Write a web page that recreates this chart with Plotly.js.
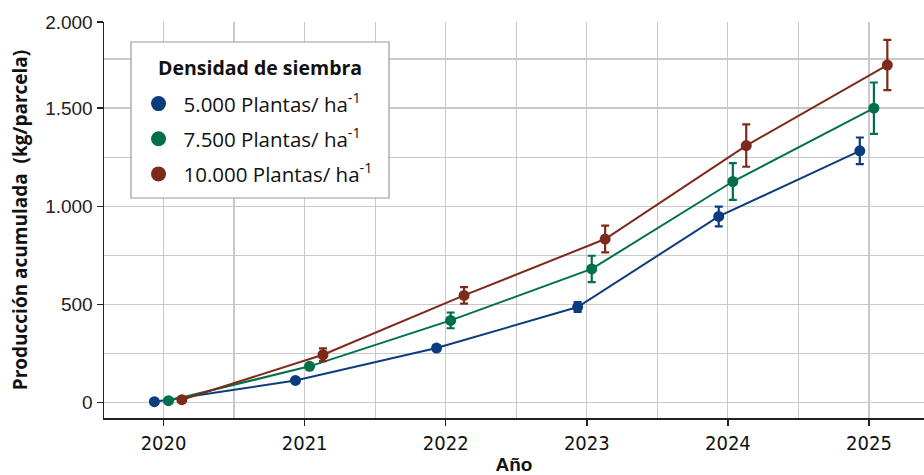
<!DOCTYPE html>
<html>
<head>
<meta charset="utf-8">
<script src="https://cdn.plot.ly/plotly-3.0.1.min.js"></script>
<style>html,body{margin:0;padding:0;background:#fff;}#chart{width:924px;height:475px;}</style>
</head>
<body>
<div id="chart"></div>
<script>
const years = [2020, 2021, 2022, 2023, 2024, 2025];
const seriesNames = ['5.000 Plantas/ ha<sup>-1</sup>', '7.500 Plantas/ ha<sup>-1</sup>', '10.000 Plantas/ ha<sup>-1</sup>'];
const legendTitle = 'Densidad de siembra';
const prod5000 = [5, 113, 278, 487, 948, 1282];
const err5000 = [5, 10, 12, 25, 50, 68];
const prod7500 = [10, 185, 419, 681, 1126, 1499];
const err7500 = [5, 12, 40, 67, 94, 131];
const prod10000 = [15, 244, 546, 833, 1309, 1719];
const err10000 = [5, 32, 42, 68, 108, 128];
const yTickVals = [0, 500, 1000, 1500, 1938];
const yTickText = ['0', '500', '1.000', '1.500', '2.000'];

const colors = ['#0b3d7e', '#00704a', '#7d2a1a'];
const dodge = [-0.065, 0.035, 0.13];
const values = [prod5000, prod7500, prod10000];
const errors = [err5000, err7500, err10000];

const traces = [];
values.forEach((v, i) => {
  traces.push({
    x: years.map(y => y + dodge[i]),
    y: v,
    mode: 'lines+markers',
    type: 'scatter',
    name: seriesNames[i],
    showlegend: false,
    line: {color: colors[i], width: 2},
    marker: {color: colors[i], size: 11},
    error_y: {type: 'data', array: errors[i], visible: true, color: colors[i], thickness: 2.2, width: 4}
  });
});
values.forEach((v, i) => {
  traces.push({
    x: [null], y: [null],
    mode: 'markers', type: 'scatter',
    name: seriesNames[i],
    legendgroup: 'g' + i,
    showlegend: true,
    marker: {color: colors[i], size: 15}
  });
});

const gridc = '#c9c9c9';
const layout = {
  width: 924, height: 475,
  margin: {l: 104, r: 0, t: 22, b: 57},
  paper_bgcolor: '#fff', plot_bgcolor: '#fff',
  showlegend: true,
  xaxis: {
    range: [2019.578, 2025.39],
    tickvals: years,
    ticktext: years.map(String),
    showgrid: true, gridcolor: gridc, gridwidth: 1.2,
    minor: {dtick: 0.5, tick0: 2019.5, showgrid: true, gridcolor: gridc, gridwidth: 1.2},
    showline: true, linecolor: '#222', linewidth: 1.5,
    ticks: 'outside', ticklen: 6, tickcolor: '#222', tickwidth: 1.5,
    tickfont: {family: 'Liberation Sans Narrow, DejaVu Sans Condensed, sans-serif', size: 20, color: '#111'},
    title: {text: '<b>Año</b>', font: {family: 'Liberation Sans Narrow, sans-serif', size: 19, color: '#111'}, standoff: 4},
    zeroline: false
  },
  yaxis: {
    range: [-78, 1938],
    tickvals: yTickVals,
    ticktext: yTickText,
    showgrid: true, gridcolor: gridc, gridwidth: 1.2,
    minor: {dtick: 250, tick0: 0, showgrid: true, gridcolor: gridc, gridwidth: 1.2},
    showline: true, linecolor: '#222', linewidth: 1.5,
    ticks: 'outside', ticklen: 6, tickcolor: '#222', tickwidth: 1.5,
    tickfont: {family: 'Liberation Sans, Arial, sans-serif', size: 19, color: '#222'},
    title: {text: '<b>Producción acumulada  (kg/parcela)</b>', font: {family: 'Open Sans, sans-serif', size: 19, color: '#111'}, standoff: 12},
    zeroline: false
  },
  shapes: [{
    type: 'rect', xref: 'paper', yref: 'paper',
    x0: 0.0329, x1: 0.3476, y0: 0.5556, y1: 0.9495,
    fillcolor: '#fff', line: {color: '#9a9a9a', width: 1.2}, layer: 'above'
  }],
  annotations: [{
    xref: 'paper', yref: 'paper', x: 0.19, y: 0.884, xanchor: 'center', yanchor: 'middle',
    text: '<b>' + legendTitle + '</b>', showarrow: false,
    font: {family: 'Open Sans, sans-serif', size: 19.5, color: '#111'}
  }],
  legend: {
    x: 0.036, y: 0.844, xanchor: 'left', yanchor: 'top',
    bgcolor: 'rgba(0,0,0,0)', borderwidth: 0,
    font: {family: 'Open Sans, sans-serif', size: 20.5, color: '#111'},
    traceorder: 'grouped',
    itemwidth: 40,
    tracegroupgap: 5.5
  }
};

Plotly.newPlot('chart', traces, layout, {displayModeBar: false, staticPlot: true});
</script>
</body>
</html>
